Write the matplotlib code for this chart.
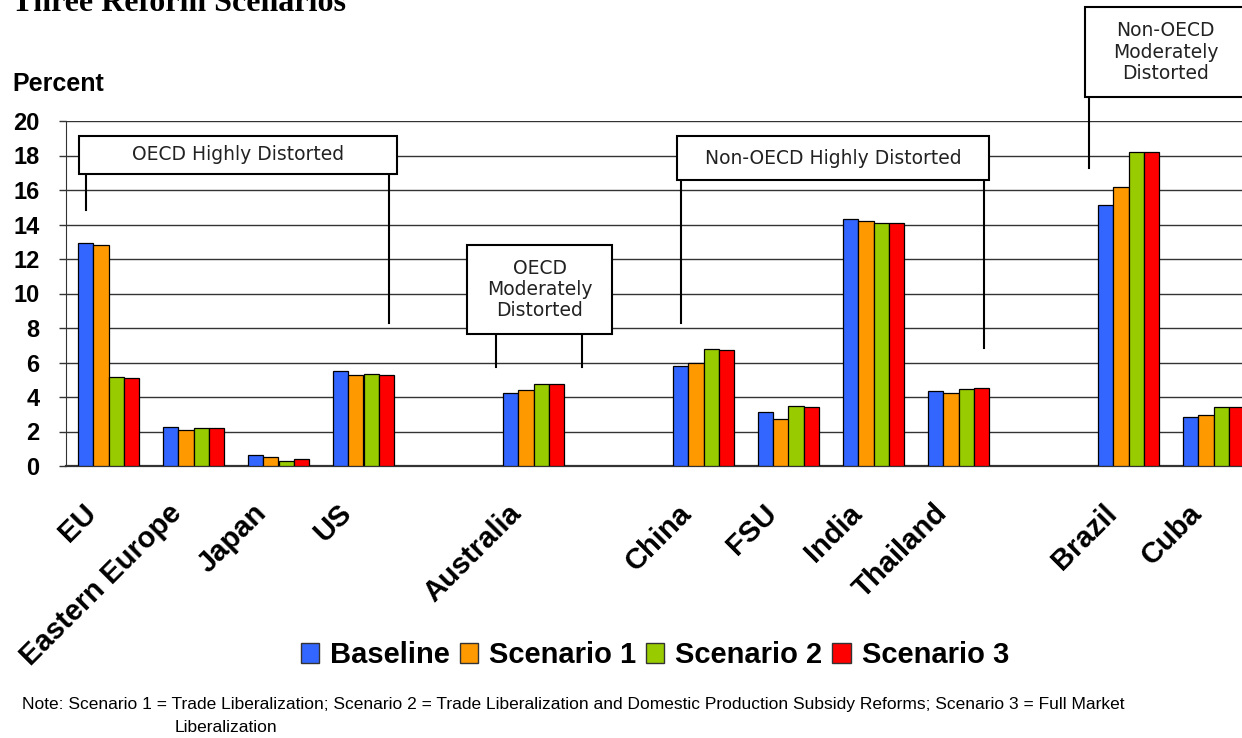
import matplotlib
matplotlib.use("Agg")
import matplotlib.pyplot as plt
from matplotlib.patches import Rectangle, Patch
from matplotlib.transforms import ScaledTranslation
import numpy as np

# ---- data ----
categories = ["EU", "Eastern Europe", "Japan", "US", "", "Australia", "",
              "China", "FSU", "India", "Thailand", "", "Brazil", "Cuba"]
series_names = ["Baseline", "Scenario 1", "Scenario 2", "Scenario 3"]
baseline  = [12.9, 2.28, 0.62, 5.5, None, 4.21, None, 5.82, 3.13, 14.32, 4.37, None, 15.13, 2.82]
scenario1 = [12.8, 2.09, 0.50, 5.3, None, 4.39, None, 5.99, 2.70, 14.20, 4.23, None, 16.20, 2.96]
scenario2 = [5.15, 2.18, 0.27, 5.35, None, 4.77, None, 6.76, 3.46, 14.10, 4.48, None, 18.22, 3.40]
scenario3 = [5.12, 2.18, 0.39, 5.30, None, 4.77, None, 6.72, 3.44, 14.10, 4.50, None, 18.22, 3.40]
colors = ["#3366FF", "#FF9900", "#99CC00", "#FF0000"]
yticks = [0, 2, 4, 6, 8, 10, 12, 14, 16, 18, 20]

group_labels = ["OECD Highly Distorted", "OECD\nModerately\nDistorted",
                "Non-OECD Highly Distorted", "Non-OECD\nModerately\nDistorted"]

W, H = 1242, 738
fig = plt.figure(figsize=(W / 100, H / 100), dpi=100)
ax = fig.add_axes([66 / W, 1 - 466 / H, 1190 / W, 345 / H])

sans = ["Liberation Sans", "DejaVu Sans"]
box_font = ["DejaVu Sans"]

x = np.arange(len(categories))
bw = 0.182
all_series = [baseline, scenario1, scenario2, scenario3]
for k, (vals, c) in enumerate(zip(all_series, colors)):
    xs = [xi + (k - 1.5) * bw for xi, v in zip(x, vals) if v is not None]
    vs = [v for v in vals if v is not None]
    ax.bar(xs, vs, width=bw, color=c, edgecolor="black", linewidth=0.9, zorder=3)

ax.set_xlim(-0.5, len(categories) - 0.5)
ax.set_ylim(0, 20)
ax.set_yticks(yticks)
ax.set_yticklabels([str(t) for t in yticks], fontsize=17, fontweight="bold", family=sans)
ax.yaxis.grid(True, color="#333333", linewidth=1.0, zorder=0)
ax.set_axisbelow(True)
for s in ["top", "right"]:
    ax.spines[s].set_visible(False)
ax.spines["left"].set_color("#333333")
ax.spines["bottom"].set_color("#333333")
ax.spines["bottom"].set_linewidth(1.6)
ax.tick_params(axis="y", length=5, width=1, pad=14, color="#333333")

lab_idx = [i for i, c in enumerate(categories) if c]
ax.set_xticks(lab_idx)
ax.set_xticklabels([categories[i] for i in lab_idx], rotation=45, ha="right", va="top",
                   rotation_mode="anchor", fontsize=21, fontweight="bold", family=sans)
ax.tick_params(axis="x", length=0, pad=0)
off = ScaledTranslation(-26 / 100, -33 / 100, fig.dpi_scale_trans)
for lbl in ax.get_xticklabels():
    lbl.set_transform(lbl.get_transform() + off)

# ---- group annotation boxes (data coordinates) ----
def box(x0, x1, y0, y1, text, lines):
    r = Rectangle((x0, y0), x1 - x0, y1 - y0, facecolor="white", edgecolor="black",
                  linewidth=1.5, zorder=5, clip_on=False)
    ax.add_patch(r)
    ax.text((x0 + x1) / 2, (y0 + y1) / 2, text, ha="center", va="center",
            fontsize=13.5, family=box_font, color="#222222", zorder=6,
            linespacing=1.16, clip_on=False)
    for lx, ly in lines:
        ax.plot([lx, lx], [y0, ly], color="black", linewidth=1.5, zorder=4, clip_on=False)

box(-0.347, 3.394, 16.93, 19.13, group_labels[0], [(-0.265, 14.84), (3.30, 8.29)])
box(4.218, 5.924, 7.65, 12.81, group_labels[1], [(4.559, 5.74), (5.571, 5.74)])
box(6.688, 10.359, 16.58, 19.13, group_labels[2], [(6.735, 8.29), (10.30, 6.84)])
box(11.488, 13.38, 21.39, 26.6, group_labels[3], [(11.535, 17.28)])

# ---- texts ----
fig.text(12 / W, 1 - 11 / H, "Three Reform Scenarios", fontsize=23, fontweight="bold",
         family=["Liberation Serif", "DejaVu Serif"], va="baseline", ha="left")
fig.text(12 / W, 1 - 91 / H, "Percent", fontsize=18, fontweight="bold",
         family=sans, va="baseline", ha="left")

handles = [Patch(facecolor=c, edgecolor="#333333", linewidth=1.0) for c in colors]
fig.legend(handles, series_names, loc="center", bbox_to_anchor=(655 / W, 1 - 655 / H),
           ncol=4, frameon=False, handlelength=0.62, handleheight=0.68,
           handletextpad=0.38, columnspacing=0.34, borderpad=0.2,
           prop={"family": sans, "weight": "bold", "size": 21})

note_font = ["Liberation Sans Narrow", "Liberation Sans", "DejaVu Sans"]
fig.text(22 / W, 1 - 704 / H,
         "Note: Scenario 1 = Trade Liberalization; Scenario 2 = Trade Liberalization and "
         "Domestic Production Subsidy Reforms; Scenario 3 = Full Market",
         fontsize=12.5, family=note_font, va="center", ha="left")
fig.text(175 / W, 1 - 727 / H, "Liberalization", fontsize=12.5, family=note_font,
         va="center", ha="left")

fig.savefig("out.png", dpi=100)
